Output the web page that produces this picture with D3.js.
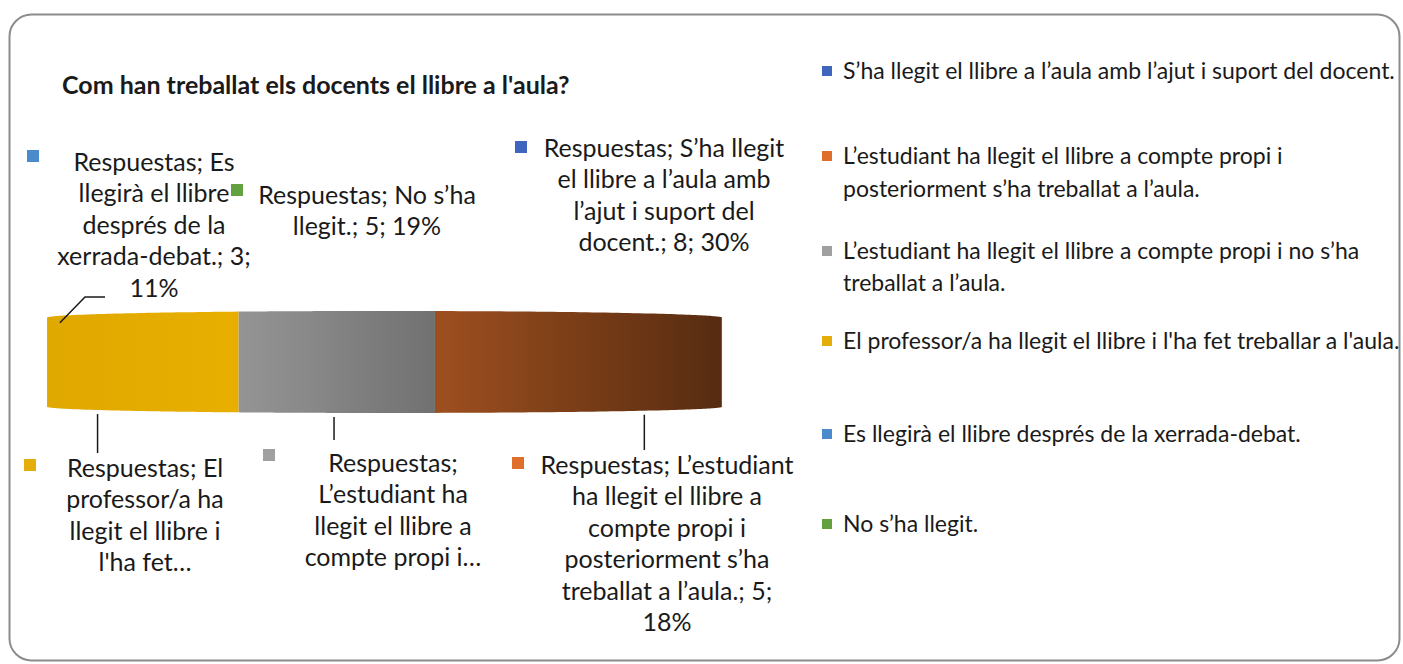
<!DOCTYPE html>
<html lang="ca">
<head>
  <meta charset="utf-8">
  <title>Com han treballat els docents el llibre a l'aula?</title>
  <script src="https://d3js.org/d3.v7.min.js"></script>
  <style type="text/css">
    body { margin: 0; background: #fff; }
    text { font-family: Lato, "Liberation Sans", sans-serif; fill: #1a1a1a; }
  </style>
</head>
<body>
  <div id="chart"></div>
  <script type="text/javascript">
    // data
    const seriesName = "Respuestas";
    const categories = [
      "S’ha llegit el llibre a l’aula amb l’ajut i suport del docent.",
      "L’estudiant ha llegit el llibre a compte propi i posteriorment s’ha treballat a l’aula.",
      "L’estudiant ha llegit el llibre a compte propi i no s’ha treballat a l’aula.",
      "El professor/a ha llegit el llibre i l'ha fet treballar a l'aula.",
      "Es llegirà el llibre després de la xerrada-debat.",
      "No s’ha llegit."
    ];
    const values = [8, 5, 2, 4, 3, 5];
    const pctLabels = ["30%", "18%", "7%", "15%", "11%", "19%"];
    // wrapped legend text, as shown
    const legendLines = [
      ["S’ha llegit el llibre a l’aula amb l’ajut i suport del docent."],
      ["L’estudiant ha llegit el llibre a compte propi i", "posteriorment s’ha treballat a l’aula."],
      ["L’estudiant ha llegit el llibre a compte propi i no s’ha", "treballat a l’aula."],
      ["El professor/a ha llegit el llibre i l'ha fet treballar a l'aula."],
      ["Es llegirà el llibre després de la xerrada-debat."],
      ["No s’ha llegit."]
    ];
    // wrapped (and truncated) data labels, as shown
    const labelLines = [
      ["Respuestas; S’ha llegit", "el llibre a l’aula amb", "l’ajut i suport del", "docent.; 8; 30%"],
      ["Respuestas; L’estudiant", "ha llegit el llibre a", "compte propi i", "posteriorment s’ha", "treballat a l’aula.; 5;", "18%"],
      ["Respuestas;", "L’estudiant ha", "llegit el llibre a", "compte propi i…"],
      ["Respuestas; El", "professor/a ha", "llegit el llibre i", "l'ha fet…"],
      ["Respuestas; Es", "llegirà el llibre", "després de la", "xerrada-debat.; 3;", "11%"],
      ["Respuestas; No s’ha", "llegit.; 5; 19%"]
    ];

    // styles / layout
    const colors = ["#4169C0", "#E3722C", "#A3A3A3", "#FFC000", "#5390CE", "#66A644"];
    const legendColors = ["#3F66BC", "#DE6E2A", "#A0A0A0", "#E5AD0A", "#4C8BCB", "#62A040"];
    // label boxes: centre x, first line y, marker x, marker y
    const labelPos = [
      {x: 664, y: 148, mx: 515, my: 141},
      {x: 667, y: 465, mx: 512, my: 457},
      {x: 393, y: 463, mx: 263, my: 449},
      {x: 145, y: 468, mx: 24, my: 459},
      {x: 154, y: 162, mx: 27, my: 150},
      {x: 367, y: 195, mx: 231, my: 184}
    ];
    const legendY = [[71], [156, 189], [251, 283], [341], [434], [524]];

    const w = 1403, h = 664;
    const svg = d3.select("#chart").append("svg")
      .attr("width", w).attr("height", h);

    // frame
    svg.append("rect")
      .attr("x", 9.5).attr("y", 14.5)
      .attr("width", 1390).attr("height", 646)
      .attr("rx", 22)
      .attr("fill", "#fff")
      .attr("stroke", "#8c8c8c")
      .attr("stroke-width", 2);

    svg.append("text")
      .attr("x", 62).attr("y", 94)
      .style("font-size", "25px")
      .style("font-weight", "bold")
      .text("Com han treballat els docents el llibre a l'aula?");

    // 3d pie seen edge-on with perspective
    const cx = 384.5, S = 326.8, D = 4;
    const persp = a => D / (D + Math.cos(a));
    const px = a => cx + S * Math.sin(a) * persp(a);
    const pyTop = a => 344.3 - 25 * persp(a);
    const pyBot = a => 381.9 + 23.3 * persp(a);
    const aR = Math.acos(-1 / D), aL = 2 * Math.PI - aR;

    const pie = d3.pie().sort(null).value(d => d)(values);
    const shade = d3.scaleLinear().domain([47, 240, 722]).range([0.88, 0.91, 0.38]).clamp(true);
    const shadeColor = (c, f) => { const r = d3.rgb(c); return d3.rgb(r.r * f, r.g * f, r.b * f).formatHex(); };

    const defs = svg.append("defs");
    const line = d3.line();

    pie.forEach((d, i) => {
      const a0 = Math.max(d.startAngle, aR), a1 = Math.min(d.endAngle, aL);
      if (a1 <= a0) return;
      const n = 60;
      const pts = [];
      for (let k = 0; k <= n; k++) { const a = a0 + (a1 - a0) * k / n; pts.push([px(a), pyTop(a)]); }
      for (let k = n; k >= 0; k--) { const a = a0 + (a1 - a0) * k / n; pts.push([px(a), pyBot(a)]); }
      const x0 = d3.min(pts, p => p[0]), x1 = d3.max(pts, p => p[0]);
      const g = defs.append("linearGradient")
        .attr("id", "side" + i)
        .attr("gradientUnits", "userSpaceOnUse")
        .attr("x1", x0).attr("x2", x1).attr("y1", 0).attr("y2", 0);
      d3.range(6).forEach(k => {
        const t = k / 5;
        g.append("stop").attr("offset", t)
          .attr("stop-color", shadeColor(colors[i], shade(x0 + (x1 - x0) * t)));
      });
      svg.append("path")
        .attr("d", line(pts) + "Z")
        .attr("fill", "url(#side" + i + ")");
    });

    // leader lines
    const lineColor = "#1a1a1a";
    [3, 2, 1].forEach(i => {
      const mid = (pie[i].startAngle + pie[i].endAngle) / 2;
      const x = px(mid);
      const y0 = pyBot(mid) + 4;
      const y1 = labelPos[i].y - 15 - (i === 2 ? 8 : 0);
      svg.append("line").attr("x1", x).attr("x2", x).attr("y1", y0).attr("y2", y1)
        .attr("stroke", lineColor).attr("stroke-width", 1.5);
    });
    {
      const mid = (pie[4].startAngle + pie[4].endAngle) / 2;
      svg.append("path")
        .attr("d", line([[px(mid) - 3, pyTop(mid) + 3], [85, 297], [105, 297]]))
        .attr("fill", "none").attr("stroke", lineColor).attr("stroke-width", 1.5);
    }

    // data labels
    const lh = 31.5;
    labelLines.forEach((lines, i) => {
      const p = labelPos[i];
      svg.append("rect")
        .attr("x", p.mx).attr("y", p.my).attr("width", 12).attr("height", 12)
        .attr("fill", legendColors[i]);
      const t = svg.append("text")
        .attr("text-anchor", "middle")
        .style("font-size", "25px");
      lines.forEach((s, k) => {
        t.append("tspan").attr("x", p.x).attr("y", p.y + k * lh).attr("dy", "0.35em").text(s);
      });
    });

    // legend
    categories.forEach((c, i) => {
      const ys = legendY[i];
      svg.append("rect")
        .attr("x", 822).attr("y", ys[0] - 5).attr("width", 10).attr("height", 10)
        .attr("fill", legendColors[i]);
      const t = svg.append("text").style("font-size", "23px");
      legendLines[i].forEach((s, k) => {
        t.append("tspan").attr("x", 843).attr("y", ys[k]).attr("dy", "0.35em").text(s);
      });
    });
  </script>
</body>
</html>
